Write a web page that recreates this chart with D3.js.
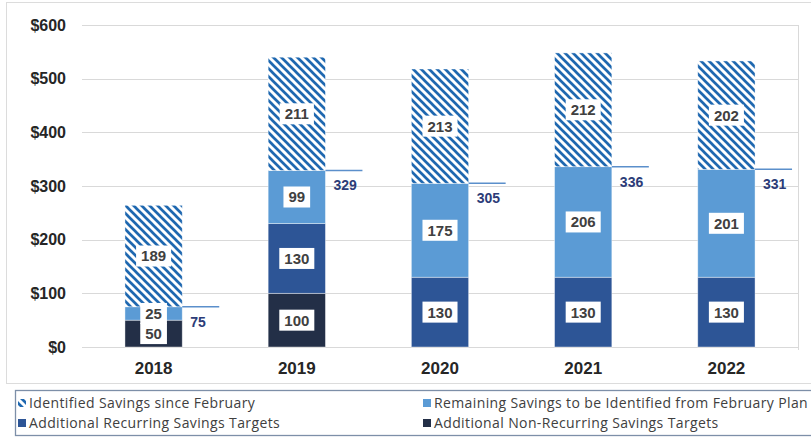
<!DOCTYPE html>
<html>
<head>
<meta charset="utf-8">
<script src="https://cdn.jsdelivr.net/npm/d3@7"></script>
<style>
  body { margin: 0; background: #fff; }
  svg { display: block; }
</style>
</head>
<body>
<div id="chart"></div>
<script>
// values (millions of $)
const years = ['2018', '2019', '2020', '2021', '2022']
const nonRecurring = [50, 100, 0, 0, 0]
const recurring = [0, 130, 130, 130, 130]
const remaining = [25, 99, 175, 206, 201]
const identified = [189, 211, 213, 212, 202]
const planTotals = [75, 329, 305, 336, 331]
const yTicks = [0, 100, 200, 300, 400, 500, 600]
const legendLabels = [
    'Identified Savings since February',
    'Remaining Savings to be Identified from February Plan',
    'Additional Recurring Savings Targets',
    'Additional Non-Recurring Savings Targets'
]

const width = 811
const height = 444

const colors = {
    nonRecurring: '#232f47',
    recurring: '#2d5596',
    remaining: '#5b9bd5',
    identified: 'url(#hatch)'
}

const rows = years.map((year, i) => ({
    year,
    nonRecurring: nonRecurring[i],
    recurring: recurring[i],
    remaining: remaining[i],
    identified: identified[i],
    plan: planTotals[i]
}))

const keys = ['nonRecurring', 'recurring', 'remaining', 'identified']
const series = d3.stack().keys(keys)(rows)

const x = d3.scaleBand()
    .domain(years)
    .range([82, 798])
    .paddingInner(0.6)
    .paddingOuter(0.3)

const y = d3.scaleLinear()
    .domain([0, 600])
    .range([347, 25])

const svg = d3.select('#chart')
    .append('svg')
    .attr('width', width)
    .attr('height', height)

const pattern = svg.append('defs')
    .append('pattern')
    .attr('id', 'hatch')
    .attr('patternUnits', 'userSpaceOnUse')
    .attr('width', 8)
    .attr('height', 8)

pattern.append('rect')
    .attr('width', 8)
    .attr('height', 8)
    .attr('fill', '#fff')

pattern.append('path')
    .attr('d', 'M-2,-2 L10,10 M-2,6 L2,10 M6,-2 L10,2')
    .attr('stroke', '#1f68b0')
    .attr('stroke-width', 2.7)

// chart frame
svg.append('rect')
    .attr('x', 6.5)
    .attr('y', 2.5)
    .attr('width', 900)
    .attr('height', 381)
    .attr('fill', 'none')
    .attr('stroke', '#dcdcdc')

// gridlines
svg.append('g')
    .selectAll('line')
    .data(yTicks)
    .join('line')
    .attr('x1', 82)
    .attr('x2', 798)
    .attr('y1', d => Math.round(y(d)) + 0.5)
    .attr('y2', d => Math.round(y(d)) + 0.5)
    .attr('stroke', '#d9d9d9')

svg.append('line')
    .attr('x1', 798.5)
    .attr('x2', 798.5)
    .attr('y1', 25)
    .attr('y2', 350)
    .attr('stroke', '#d9d9d9')

// y axis labels
const yAxis = svg.append('g')
    .attr('transform', 'translate(66,0)')
    .call(d3.axisLeft(y).tickValues(yTicks).tickFormat(d => '$' + d).tickSize(0).tickPadding(0))

yAxis.select('.domain').remove()
yAxis.selectAll('text')
    .attr('font-family', 'Liberation Sans, Arial, sans-serif')
    .attr('font-size', 16)
    .attr('font-weight', 'bold')
    .attr('fill', '#262626')

// x axis labels
const xAxis = svg.append('g')
    .attr('transform', 'translate(0,362)')
    .call(d3.axisBottom(x).tickSize(0).tickPadding(0))

xAxis.select('.domain').remove()
xAxis.selectAll('text')
    .attr('font-family', 'Liberation Sans, Arial, sans-serif')
    .attr('font-size', 17)
    .attr('font-weight', 'bold')
    .attr('fill', '#262626')

// stacked bars
svg.append('g')
    .selectAll('g')
    .data(series)
    .join('g')
    .attr('fill', d => colors[d.key])
    .selectAll('rect')
    .data(d => d.filter(s => s[1] > s[0]))
    .join('rect')
    .attr('x', d => x(d.data.year))
    .attr('width', x.bandwidth())
    .attr('y', d => y(d[1]))
    .attr('height', d => y(d[0]) - y(d[1]))
    .attr('stroke', '#ffffff')
    .attr('stroke-opacity', 0.5)
    .attr('stroke-width', 0.8)

// segment value labels in white boxes
const labelData = series.flatMap(s => s
    .filter(d => d[1] > d[0])
    .map(d => ({ year: d.data.year, mid: (d[0] + d[1]) / 2, value: d[1] - d[0] })))

const labels = svg.append('g')
    .selectAll('g')
    .data(labelData)
    .join('g')
    .attr('transform', d => `translate(${x(d.year) + x.bandwidth() / 2},${y(d.mid)})`)

labels.append('rect')
    .attr('fill', '#fff')

labels.append('text')
    .attr('text-anchor', 'middle')
    .attr('dy', '0.36em')
    .attr('font-family', 'Liberation Sans, Arial, sans-serif')
    .attr('font-size', 15)
    .attr('font-weight', 'bold')
    .attr('fill', '#404040')
    .text(d => d.value)

labels.each(function () {
    const g = d3.select(this)
    const w = g.select('text').node().getComputedTextLength() + 10
    g.select('rect')
        .attr('x', -w / 2)
        .attr('y', -10.5)
        .attr('width', w)
        .attr('height', 21)
})

// February plan markers
const plan = svg.append('g')
    .selectAll('g')
    .data(rows)
    .join('g')
    .attr('transform', d => `translate(${x(d.year) + x.bandwidth()},${y(d.plan)})`)

plan.append('line')
    .attr('x1', 0)
    .attr('x2', 37)
    .attr('stroke', '#5b8fcb')
    .attr('stroke-width', 1.5)

plan.append('text')
    .attr('x', 8)
    .attr('y', 20)
    .attr('font-family', 'Liberation Sans, Arial, sans-serif')
    .attr('font-size', 14)
    .attr('font-weight', 'bold')
    .attr('fill', '#2c3c78')
    .text(d => d.plan)

// legend
svg.append('rect')
    .attr('x', 15.5)
    .attr('y', 390.5)
    .attr('width', 900)
    .attr('height', 45)
    .attr('fill', '#fff')
    .attr('stroke', '#7d8fa8')
    .attr('stroke-width', 1.3)

const legendFills = [colors.identified, colors.remaining, colors.recurring, colors.nonRecurring]
const legendPos = [[18, 403], [423, 403], [18, 423], [423, 423]]

const legend = svg.append('g')
    .selectAll('g')
    .data(legendLabels)
    .join('g')
    .attr('transform', (d, i) => `translate(${legendPos[i][0]},${legendPos[i][1]})`)

legend.append('rect')
    .attr('y', -4)
    .attr('width', 8)
    .attr('height', 8)
    .attr('fill', (d, i) => legendFills[i])

legend.append('text')
    .attr('x', 11)
    .attr('dy', '0.35em')
    .attr('font-family', 'Open Sans, sans-serif')
    .attr('font-size', 14)
    .attr('letter-spacing', 0.38)
    .attr('fill', '#404040')
    .text(d => d)
</script>
</body>
</html>
